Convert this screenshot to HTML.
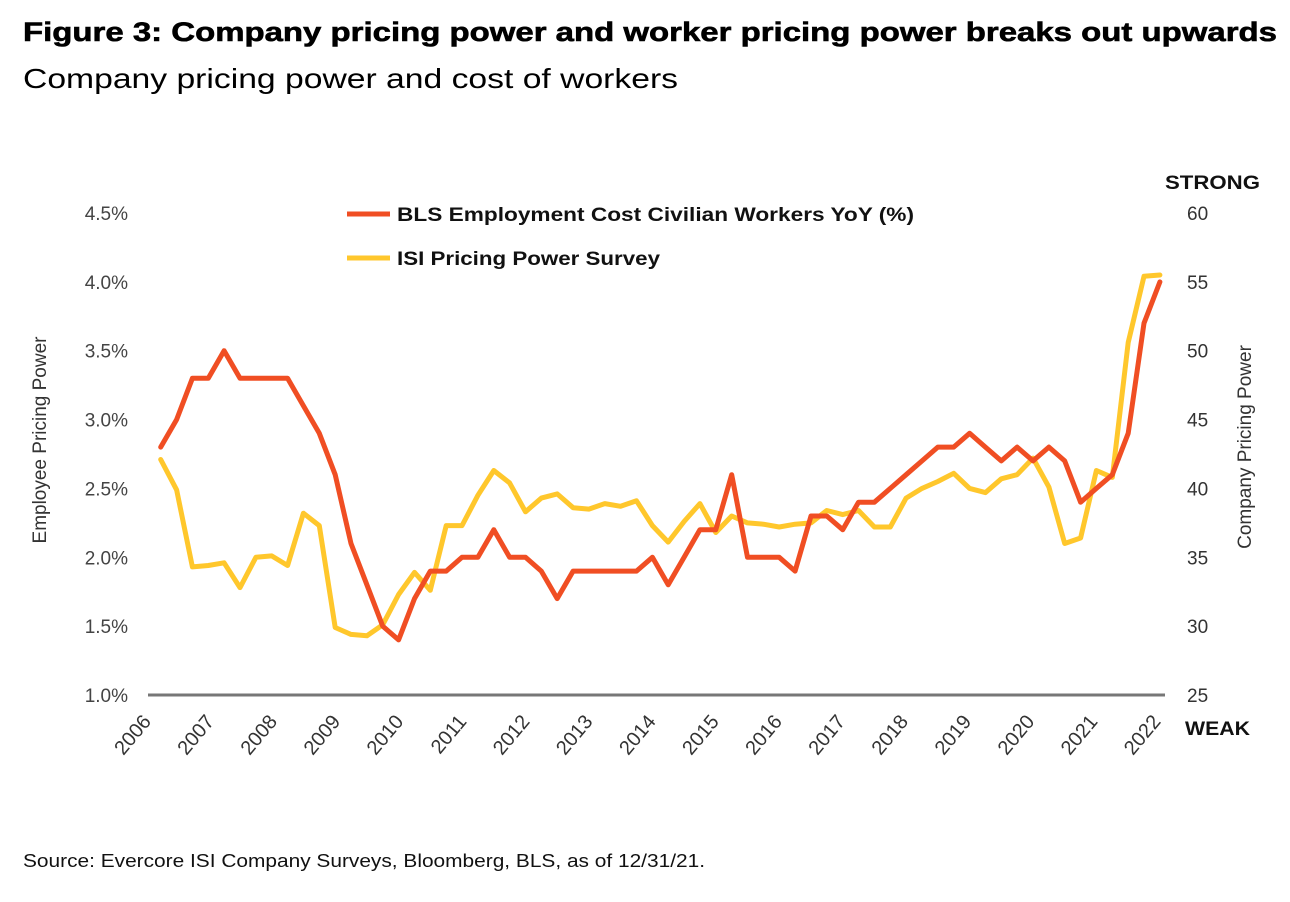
<!DOCTYPE html>
<html><head><meta charset="utf-8"><style>
html,body{margin:0;padding:0;background:#fff;}
svg{display:block;font-family:"Liberation Sans",sans-serif;}
</style></head><body>
<svg id="chart" width="1290" height="902" viewBox="0 0 1290 902" xmlns="http://www.w3.org/2000/svg">
<text x="23" y="41" font-size="27" font-weight="bold" textLength="1254" lengthAdjust="spacingAndGlyphs" fill="#000" stroke="#000" stroke-width="0.6">Figure 3: Company pricing power and worker pricing power breaks out upwards</text>
<text x="23" y="88" font-size="28" textLength="655" lengthAdjust="spacingAndGlyphs" fill="#000">Company pricing power and cost of workers</text>
<g id="leftTicks"></g>
<g id="rightTicks"></g>
<g id="xTicks"></g>
<line x1="148" y1="695" x2="1165" y2="695" stroke="#777" stroke-width="3"/>
<text transform="translate(46,440) rotate(-90)" text-anchor="middle" font-size="19" fill="#333">Employee Pricing Power</text>
<text transform="translate(1251,447) rotate(-90)" text-anchor="middle" font-size="19" fill="#333">Company Pricing Power</text>
<text x="1165" y="189" font-size="19" font-weight="bold" fill="#111" textLength="95" lengthAdjust="spacingAndGlyphs">STRONG</text>
<text x="1185" y="735" font-size="19" font-weight="bold" fill="#111" textLength="65" lengthAdjust="spacingAndGlyphs">WEAK</text>
<g>
<line x1="347" y1="214" x2="390" y2="214" stroke="#F04E23" stroke-width="5"/>
<text x="397" y="221" font-size="19" font-weight="bold" fill="#111" textLength="517" lengthAdjust="spacingAndGlyphs">BLS Employment Cost Civilian Workers YoY (%)</text>
<line x1="347" y1="258" x2="390" y2="258" stroke="#FFC72C" stroke-width="5"/>
<text x="397" y="265" font-size="19" font-weight="bold" fill="#111" textLength="263" lengthAdjust="spacingAndGlyphs">ISI Pricing Power Survey</text>
</g>
<g id="series"></g>
<text x="23" y="867" font-size="18" fill="#111" textLength="682" lengthAdjust="spacingAndGlyphs">Source: Evercore ISI Company Surveys, Bloomberg, BLS, as of 12/31/21.</text>
</svg>
<script>
const years = ["2006","2007","2008","2009","2010","2011","2012","2013","2014","2015","2016","2017","2018","2019","2020","2021","2022"];
const leftTickValues = [1.0,1.5,2.0,2.5,3.0,3.5,4.0,4.5];
const leftTickLabels = ["1.0%","1.5%","2.0%","2.5%","3.0%","3.5%","4.0%","4.5%"];
const rightTickValues = [25,30,35,40,45,50,55,60];
const blsValues = [2.8,3.0,3.3,3.3,3.5,3.3,3.3,3.3,3.3,3.1,2.9,2.6,2.1,1.8,1.5,1.4,1.7,1.9,1.9,2.0,2.0,2.2,2.0,2.0,1.9,1.7,1.9,1.9,1.9,1.9,1.9,2.0,1.8,2.0,2.2,2.2,2.6,2.0,2.0,2.0,1.9,2.3,2.3,2.2,2.4,2.4,2.5,2.6,2.7,2.8,2.8,2.9,2.8,2.7,2.8,2.7,2.8,2.7,2.4,2.5,2.6,2.9,3.7,4.0];
const isiValues = [42.1,39.9,34.3,34.4,34.6,32.8,35.0,35.1,34.4,38.2,37.3,29.9,29.4,29.3,30.1,32.3,33.9,32.6,37.3,37.3,39.5,41.3,40.4,38.3,39.3,39.6,38.6,38.5,38.9,38.7,39.1,37.3,36.1,37.6,38.9,36.8,38.0,37.5,37.4,37.2,37.4,37.5,38.4,38.1,38.4,37.2,37.2,39.3,40.0,40.5,41.1,40.0,39.7,40.7,41.0,42.2,40.1,36.0,36.4,41.3,40.8,50.6,55.4,55.5];

const NS = "http://www.w3.org/2000/svg";
const yTop = 213, yBot = 695;
const yLeft = v => yBot - (v - 1.0) / 3.5 * (yBot - yTop);
const yRight = v => yBot - (v - 25) / 35 * (yBot - yTop);
const xIdx = i => 160.7 + i * 15.86;
const xYear = i => 152 + i * 63.1;

const lt = document.getElementById('leftTicks');
leftTickValues.forEach((v, k) => {
  const t = document.createElementNS(NS, 'text');
  
  
  t.setAttribute('x', 128); t.setAttribute('y', yLeft(v) + 7);
  t.setAttribute('text-anchor', 'end'); t.setAttribute('font-size', '19'); t.setAttribute('fill', '#444');
  t.textContent = leftTickLabels[k];
  lt.appendChild(t);
});
const rt = document.getElementById('rightTicks');
rightTickValues.forEach(v => {
  const t = document.createElementNS(NS, 'text');
  
  
  t.setAttribute('x', 1187); t.setAttribute('y', yRight(v) + 7);
  t.setAttribute('font-size', '19'); t.setAttribute('fill', '#333');
  t.textContent = String(v);
  rt.appendChild(t);
});
const xt = document.getElementById('xTicks');
years.forEach((y, i) => {
  const t = document.createElementNS(NS, 'text');
  
  
  const x = xYear(i);
  t.setAttribute('transform', 'translate(' + x + ',722) rotate(-50)');
  t.setAttribute('text-anchor', 'end'); t.setAttribute('font-size', '20'); t.setAttribute('fill', '#333');
  t.textContent = y;
  xt.appendChild(t);
});
const sg = document.getElementById('series');
function addLine(vals, yf, color, name) {
  const p = document.createElementNS(NS, 'polyline');
  
  
  p.setAttribute('points', vals.map((v, i) => xIdx(i).toFixed(1) + ',' + yf(v).toFixed(1)).join(' '));
  p.setAttribute('fill', 'none'); p.setAttribute('stroke', color);
  p.setAttribute('stroke-width', '5'); p.setAttribute('stroke-linejoin', 'round'); p.setAttribute('stroke-linecap', 'round');
  sg.appendChild(p);
}
addLine(isiValues, yRight, '#FFC72C', 'isi-line');
addLine(blsValues, yLeft, '#F04E23', 'bls-line');
</script>
</body></html>
